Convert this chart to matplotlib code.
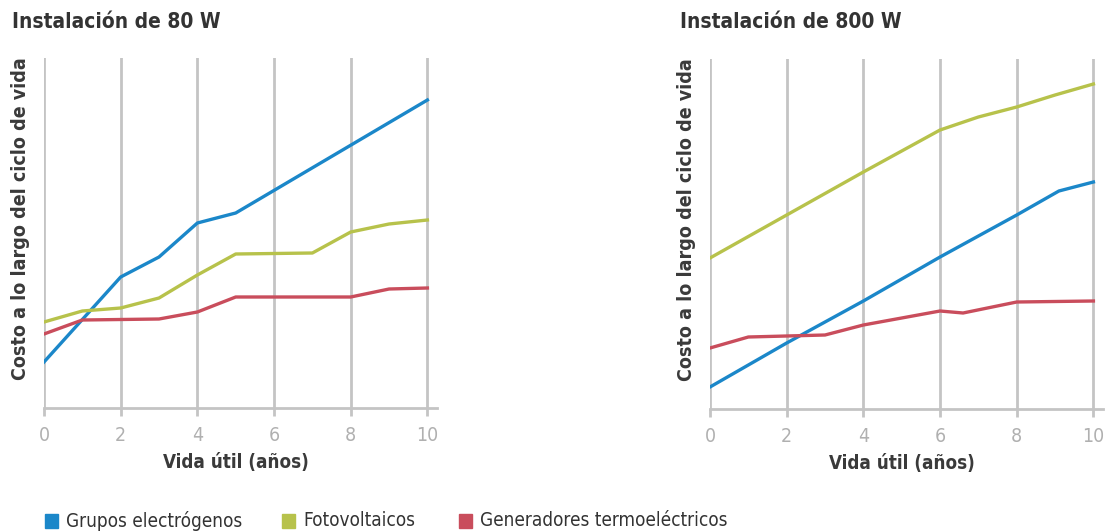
import matplotlib.pyplot as plt
from matplotlib.patches import Rectangle

# lifetime cost curves (arbitrary cost units), years on the x axis
years_80_blue = [0, 2, 3, 4, 5, 10]
cost_80_blue = [46, 131, 151, 185, 195, 308]
years_80_green = [0, 1, 2, 3, 4, 5, 7, 8, 9, 10]
cost_80_green = [86, 97, 100, 110, 133, 154, 155, 176, 184, 188]
years_80_red = [0, 1, 3, 4, 5, 8, 9, 10]
cost_80_red = [74, 88, 89, 96, 111, 111, 119, 120]

years_800_blue = [0, 2, 4, 6, 8, 9.1, 10]
cost_800_blue = [22, 66, 108, 152, 194, 218, 227]
years_800_green = [0, 2, 4, 6, 7, 8, 9, 10]
cost_800_green = [151, 194, 237, 279, 292, 302, 314, 325]
years_800_red = [0, 1, 2, 3, 4, 6, 6.6, 8, 10]
cost_800_red = [61, 72, 73, 74, 84, 98, 96, 107, 108]

series_names = ["Grupos electrógenos", "Fotovoltaicos", "Generadores termoeléctricos"]
colors = ["#1b87c9", "#b7c24b", "#c94d5c"]
xticks = [0, 2, 4, 6, 8, 10]

plt.rcParams['font.family'] = ["DejaVu Sans"]
plt.rcParams['font.stretch'] = "condensed"

fig = plt.figure(figsize=(11.09, 5.31), dpi=100)
W, H = 1109.0, 531.0


def make_axes(left_px, right_px, top_px, bottom_px):
    return fig.add_axes([left_px / W, 1 - bottom_px / H,
                         (right_px - left_px) / W, (bottom_px - top_px) / H])


def style(ax, title, title_x):
    ax.set_xlim(0, 10.25)
    ax.set_ylim(0, 350)
    for s in ["top", "right", "left"]:
        ax.spines[s].set_visible(False)
    ax.spines["bottom"].set_color("#c4c4c4")
    ax.spines["bottom"].set_linewidth(2)
    ax.set_xticks(xticks)
    ax.set_yticks([])
    ax.tick_params(axis="x", length=6, width=2, color="#c4c4c4",
                   labelsize=14, labelcolor="#b0b0b0", pad=7)
    for x in xticks:
        ax.axvline(x, color="#c4c4c4", lw=2, zorder=0)
    ax.set_xlabel("Vida útil (años)", fontsize=13.5, fontweight="bold",
                  color="#3a3a3a")
    ax.xaxis.set_label_coords(5 / 10.25, -0.128)
    ax.set_ylabel("Costo a lo largo del ciclo de vida", fontsize=14,
                  fontweight="bold", color="#3a3a3a")
    ax.yaxis.set_label_coords(-0.036, 0.54)
    fig.text(title_x / W, 1 - 22 / H, title, fontsize=15, fontweight="bold",
             color="#333333", va="center", ha="left")


ax1 = make_axes(44, 437, 58, 408)
style(ax1, "Instalación de 80 W", 12)
ax1.plot(years_80_blue, cost_80_blue, color=colors[0], lw=2.4)
ax1.plot(years_80_green, cost_80_green, color=colors[1], lw=2.4)
ax1.plot(years_80_red, cost_80_red, color=colors[2], lw=2.4)

ax2 = make_axes(710, 1103, 59, 409)
style(ax2, "Instalación de 800 W", 680)
ax2.plot(years_800_blue, cost_800_blue, color=colors[0], lw=2.4)
ax2.plot(years_800_green, cost_800_green, color=colors[1], lw=2.4)
ax2.plot(years_800_red, cost_800_red, color=colors[2], lw=2.4)

# legend row along the bottom
legend_x = [45, 282, 459]
for x, name, c in zip(legend_x, series_names, colors):
    fig.patches.append(Rectangle((x / W, 1 - 528 / H), 13 / W, 14 / H,
                                 transform=fig.transFigure, color=c))
    fig.text((x + 21) / W, 1 - 521 / H, name, fontsize=13.6, color="#333333",
             va="center", ha="left")

fig.savefig("out.png", dpi=100)
